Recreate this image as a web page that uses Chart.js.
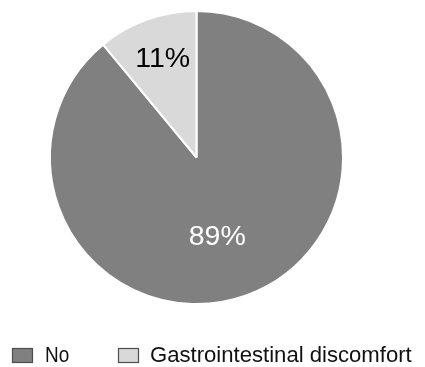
<!DOCTYPE html>
<html>
<head>
<meta charset="utf-8">
<script src="https://cdn.jsdelivr.net/npm/chart.js@4/dist/chart.umd.min.js"></script>
<style>
  html, body { margin: 0; padding: 0; background: #ffffff; }
  #wrap { width: 425px; height: 367px; position: relative; }
</style>
</head>
<body>
<div id="wrap"><canvas id="c" width="425" height="367"></canvas></div>
<script>
// Share of respondents reporting each outcome (%)
const categories = ['No', 'Gastrointestinal discomfort'];
const shares = [89, 11];
const sliceColors = ['#808080', '#d9d9d9'];

// Percent labels placed along each slice's bisector
const sliceLabels = {
  id: 'sliceLabels',
  afterDatasetsDraw(chart, args, opts) {
    const ctx = chart.ctx;
    const meta = chart.getDatasetMeta(0);
    const values = chart.data.datasets[0].data;
    meta.data.forEach((arc, i) => {
      const p = arc.getProps(['x', 'y', 'startAngle', 'endAngle', 'outerRadius'], true);
      const mid = (p.startAngle + p.endAngle) / 2 + (opts.angleShift[i] || 0);
      const r = p.outerRadius * opts.radiusFrac[i];
      const x = p.x + Math.cos(mid) * r;
      const y = p.y + Math.sin(mid) * r;
      ctx.save();
      ctx.font = opts.font;
      ctx.fillStyle = opts.colors[i];
      ctx.textAlign = 'center';
      ctx.textBaseline = 'middle';
      ctx.fillText(values[i] + '%', x, y);
      ctx.restore();
    });
  }
};

// Legend row under the pie
const bottomLegend = {
  id: 'bottomLegend',
  afterDraw(chart, args, opts) {
    const ctx = chart.ctx;
    const ds = chart.data.datasets[0];
    chart.data.labels.forEach((label, i) => {
      const it = opts.items[i];
      ctx.save();
      ctx.fillStyle = ds.backgroundColor[i];
      ctx.fillRect(it.boxX, opts.boxY, opts.boxW, opts.boxH);
      ctx.strokeStyle = '#4d4d4d';
      ctx.lineWidth = 1.2;
      ctx.strokeRect(it.boxX + 0.5, opts.boxY + 0.5, opts.boxW - 1, opts.boxH - 1);
      ctx.fillStyle = '#111111';
      ctx.font = it.font;
      ctx.textAlign = 'left';
      ctx.textBaseline = 'alphabetic';
      ctx.translate(it.textX, opts.baseline);
      ctx.scale(it.scaleX, 1);
      ctx.fillText(label, 0, 0);
      ctx.restore();
    });
  }
};

new Chart(document.getElementById('c'), {
  type: 'pie',
  data: {
    labels: categories,
    datasets: [{
      data: shares,
      backgroundColor: sliceColors,
      borderColor: '#ffffff',
      borderWidth: 2
    }]
  },
  options: {
    responsive: false,
    animation: false,
    events: [],
    layout: { padding: { left: 49, right: 81, top: 10, bottom: 62 } },
    plugins: {
      legend: { display: false },
      tooltip: { enabled: false },
      sliceLabels: {
        font: '28.5px "Liberation Sans", Arial, sans-serif',
        colors: ['#ffffff', '#000000'],
        radiusFrac: [0.56, 0.71],
        angleShift: [0.09, 0.015]
      },
      bottomLegend: {
        boxY: 348, boxW: 21, boxH: 15, baseline: 362,
        items: [
          { boxX: 12, textX: 45, font: '22px "Liberation Sans", Arial, sans-serif', scaleX: 0.86 },
          { boxX: 118, textX: 150, font: '22px "Liberation Sans", Arial, sans-serif', scaleX: 1.005 }
        ]
      }
    }
  },
  plugins: [sliceLabels, bottomLegend]
});
</script>
</body>
</html>
